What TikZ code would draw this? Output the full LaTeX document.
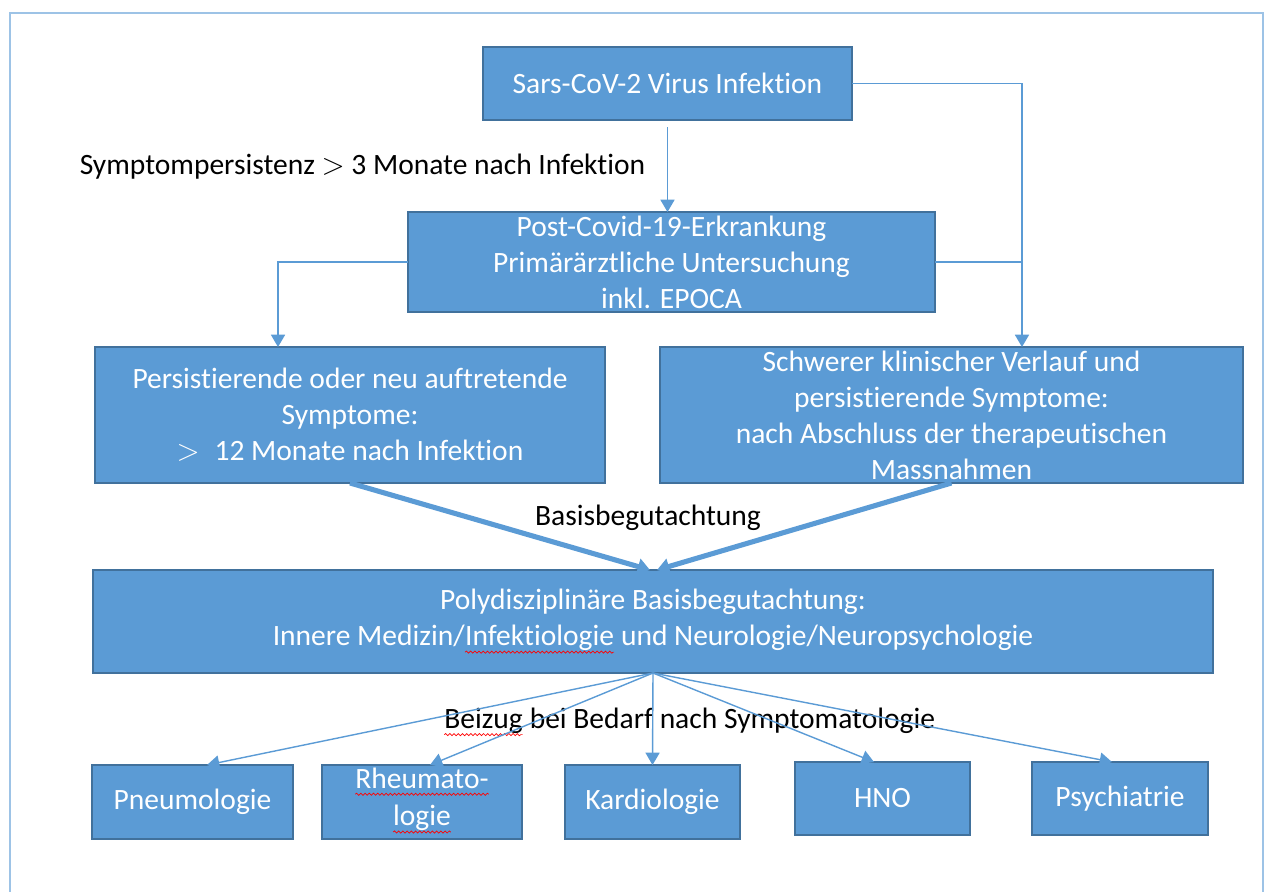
\documentclass[tikz,border=0pt]{standalone}
\usepackage{fontspec}
\setmainfont{Carlito}[Ligatures=NoCommon]
\usetikzlibrary{arrows.meta,decorations.pathmorphing}
\definecolor{boxfill}{HTML}{5B9BD5}
\definecolor{boxline}{HTML}{41719C}
\definecolor{framecol}{HTML}{9DC3E6}
\newcommand\spellmark[1]{\tikz[baseline=(w.base)]{\node[draw=none,fill=none,minimum width=0pt,minimum height=0pt,inner sep=0pt,outer sep=0pt] (w) {#1};
  \draw[red,line width=0.4pt,decorate,decoration={snake,amplitude=0.6pt,segment length=2.4pt}] ([yshift=-3.5pt]w.base west) -- ([yshift=-3.5pt]w.base east);}}
\begin{document}
\begin{tikzpicture}[x=0.02cm,y=-0.02cm,
  font=\fontsize{16.8}{20.5}\selectfont,
  box/.style={draw=boxline,line width=1pt,fill=boxfill,text=white,align=center,inner sep=0pt,outer sep=0pt},
  link/.style={draw=boxfill,line width=0.8pt,-{Triangle[width=8pt,length=7pt]}},
  bigarrow/.style={draw=boxfill,line width=2.9pt,-{Triangle[width=9pt,length=7pt]}},
  caption/.style={text=black,inner sep=0pt}]
\useasboundingbox (0,0) rectangle (1269,892);
\draw[framecol,line width=1pt] (10,892) -- (10,13) -- (1263,13) -- (1263,892);

\node[box,minimum width=7.38cm,minimum height=1.46cm] (virus) at (667.5,83.5) {Sars-CoV-2 Virus Infektion};
\node[box,minimum width=10.54cm,minimum height=2cm] (post) at (671.5,262) {Post-Covid-19-Erkrankung\\Primärärztliche Untersuchung\\inkl. EPOCA};
\node[box,minimum width=10.2cm,minimum height=2.72cm] (persist) at (350,415) {Persistierende oder neu auftretende\\Symptome:\\$>$\hspace{0.5em}12 Monate nach Infektion};
\node[box,minimum width=11.66cm,minimum height=2.72cm] (severe) at (951.5,415) {Schwerer klinischer Verlauf und\\persistierende Symptome:\\nach Abschluss der therapeutischen\\Massnahmen};
\node[box,minimum width=22.4cm,minimum height=2.06cm] (poly) at (653,621.5) {Polydisziplinäre Basisbegutachtung:\\Innere Medizin/\spellmark{Infektiologie} und Neurologie/Neuropsychologie};
\node[box,minimum width=4.02cm,minimum height=1.48cm] (pneumo) at (192.5,802) {Pneumologie};
\node[box,minimum width=4cm,minimum height=1.48cm,font=\fontsize{16.8}{21.5}\selectfont,text depth=6pt] (rheuma) at (422,802) {\spellmark{Rheumato-}\\\spellmark{logie}};
\node[box,minimum width=3.5cm,minimum height=1.48cm] (kardio) at (652.5,802) {Kardiologie};
\node[box,minimum width=3.5cm,minimum height=1.46cm] (hno) at (882.5,798.5) {HNO};
\node[box,minimum width=3.52cm,minimum height=1.46cm] (psych) at (1120,798.5) {Psychiatrie};

\node[caption] (lbl-sympt) at (362.5,167) {Symptompersistenz $>$ 3 Monate nach Infektion};
\node[caption] (lbl-basis) at (648,518) {Basisbegutachtung};
\node[caption] (lbl-beizug) at (689.5,722) {\spellmark{Beizug} bei Bedarf nach Symptomatologie};

\coordinate (turn) at (1022,0);
\draw[link,shorten <=4pt] (virus.south) -- (virus.south |- post.north);
\draw[link] (virus.east) -| ([xshift=1.41cm]severe.north);
\draw[boxfill,line width=0.8pt] (post.east) -- (post.east -| turn);
\draw[link] (post.west) -| ([xshift=-1.44cm]persist.north);

\draw[bigarrow] (persist.south) -- ([xshift=-0.06cm]poly.north);
\draw[bigarrow] (severe.south) -- ([xshift=0.08cm]poly.north);

\draw[link] (poly.south) -- ([xshift=0.29cm]pneumo.north);
\draw[link] (poly.south) -- ([xshift=0.16cm]rheuma.north);
\draw[link] (poly.south) -- (kardio.north);
\draw[link] (poly.south) -- ([xshift=-0.17cm]hno.north);
\draw[link] (poly.south) -- ([xshift=-0.16cm]psych.north);
\end{tikzpicture}
\end{document}
